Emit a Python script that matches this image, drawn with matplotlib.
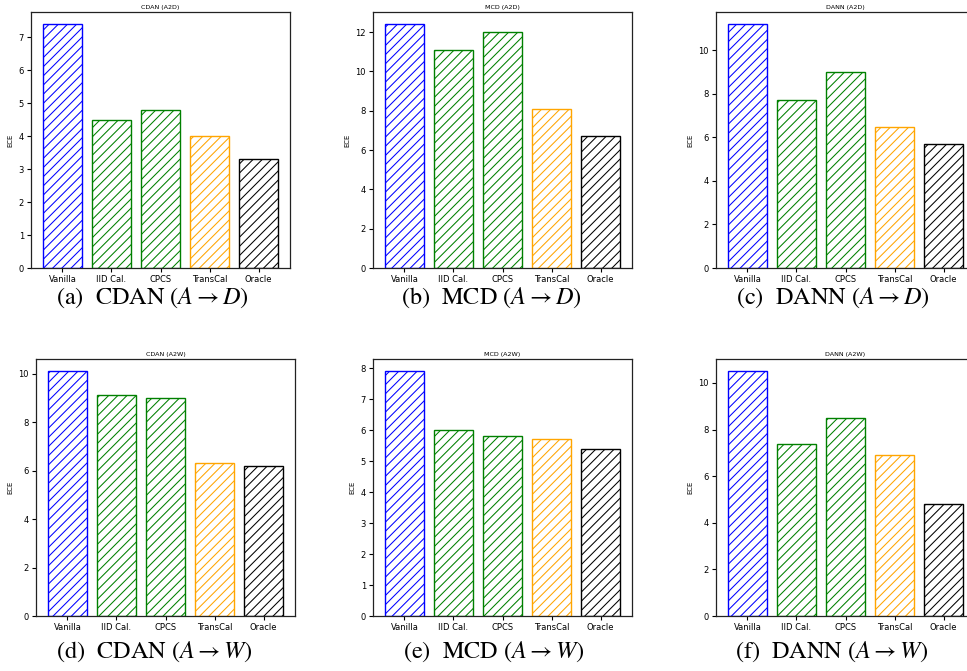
from matplotlib import pyplot as plt
import numpy as np

# render at 110 dpi so the '////' hatch spacing matches the original
DPI = 110
k = 100 / DPI  # keep sizes as they'd look at 100 dpi

plt.rcParams['mathtext.fontset'] = 'stix'
plt.rcParams['hatch.linewidth'] = 0.75 * k

methods = ["Vanilla", "IID Cal.", "CPCS", "TransCal", "Oracle"]
colors = ["blue", "green", "green", "orange", "black"]

cdan_a2d = [7.4, 4.5, 4.8, 4.0, 3.3]
mcd_a2d = [12.4, 11.1, 12.0, 8.1, 6.7]
dann_a2d = [11.2, 7.7, 9.0, 6.5, 5.7]
cdan_a2w = [10.1, 9.1, 9.0, 6.3, 6.2]
mcd_a2w = [7.9, 6.0, 5.8, 5.7, 5.4]
dann_a2w = [10.5, 7.4, 8.5, 6.9, 4.8]

titles = ["CDAN (A2D)", "MCD (A2D)", "DANN (A2D)",
          "CDAN (A2W)", "MCD (A2W)", "DANN (A2W)"]
captions = ["(a)  CDAN ($A \\rightarrow D$)", "(b)  MCD ($A \\rightarrow D$)",
            "(c)  DANN ($A \\rightarrow D$)", "(d)  CDAN ($A \\rightarrow W$)",
            "(e)  MCD ($A \\rightarrow W$)", "(f)  DANN ($A \\rightarrow W$)"]
series = [cdan_a2d, mcd_a2d, dann_a2d, cdan_a2w, mcd_a2w, dann_a2w]

W, H = 967, 671
fig = plt.figure(figsize=(W / DPI, H / DPI), dpi=DPI)

# axes boxes in pixels: left, right, top, bottom
boxes = [(31, 290, 12, 268), (373, 632, 12, 268), (716, 975, 12, 268),
         (36, 295, 359, 616), (373, 632, 359, 616), (716, 975, 359, 616)]
cap_pos = [(152, 298), (491, 298), (833, 298),
           (154, 652), (494, 652), (832, 652)]

x = np.arange(len(methods))
for i in range(6):
    l, r, t, b = boxes[i]
    ax = fig.add_axes([l / W, 1 - b / H, (r - l) / W, (b - t) / H])
    for j in range(len(methods)):
        ax.bar(x[j], series[i][j], width=0.8, fill=False,
               edgecolor=colors[j], hatch="////", linewidth=1.0 * k)
    ax.set_xticks(x)
    ax.set_xticklabels(methods, fontsize=6 * k)
    ax.tick_params(axis="y", labelsize=6 * k)
    ax.tick_params(length=3 * k, width=0.8 * k, pad=2 * k)
    ax.set_ylabel("ECE", fontsize=5 * k, labelpad=4 * k)
    ax.set_title(titles[i], fontsize=4.6 * k, pad=2 * k)
    for s in ax.spines.values():
        s.set_color("#222222")
        s.set_linewidth(0.9 * k)
    fig.text(cap_pos[i][0] / W, 1 - cap_pos[i][1] / H, captions[i],
             fontsize=17.5 * k, family="STIXGeneral", ha="center", va="center")

fig.savefig("out.png", dpi=DPI)
